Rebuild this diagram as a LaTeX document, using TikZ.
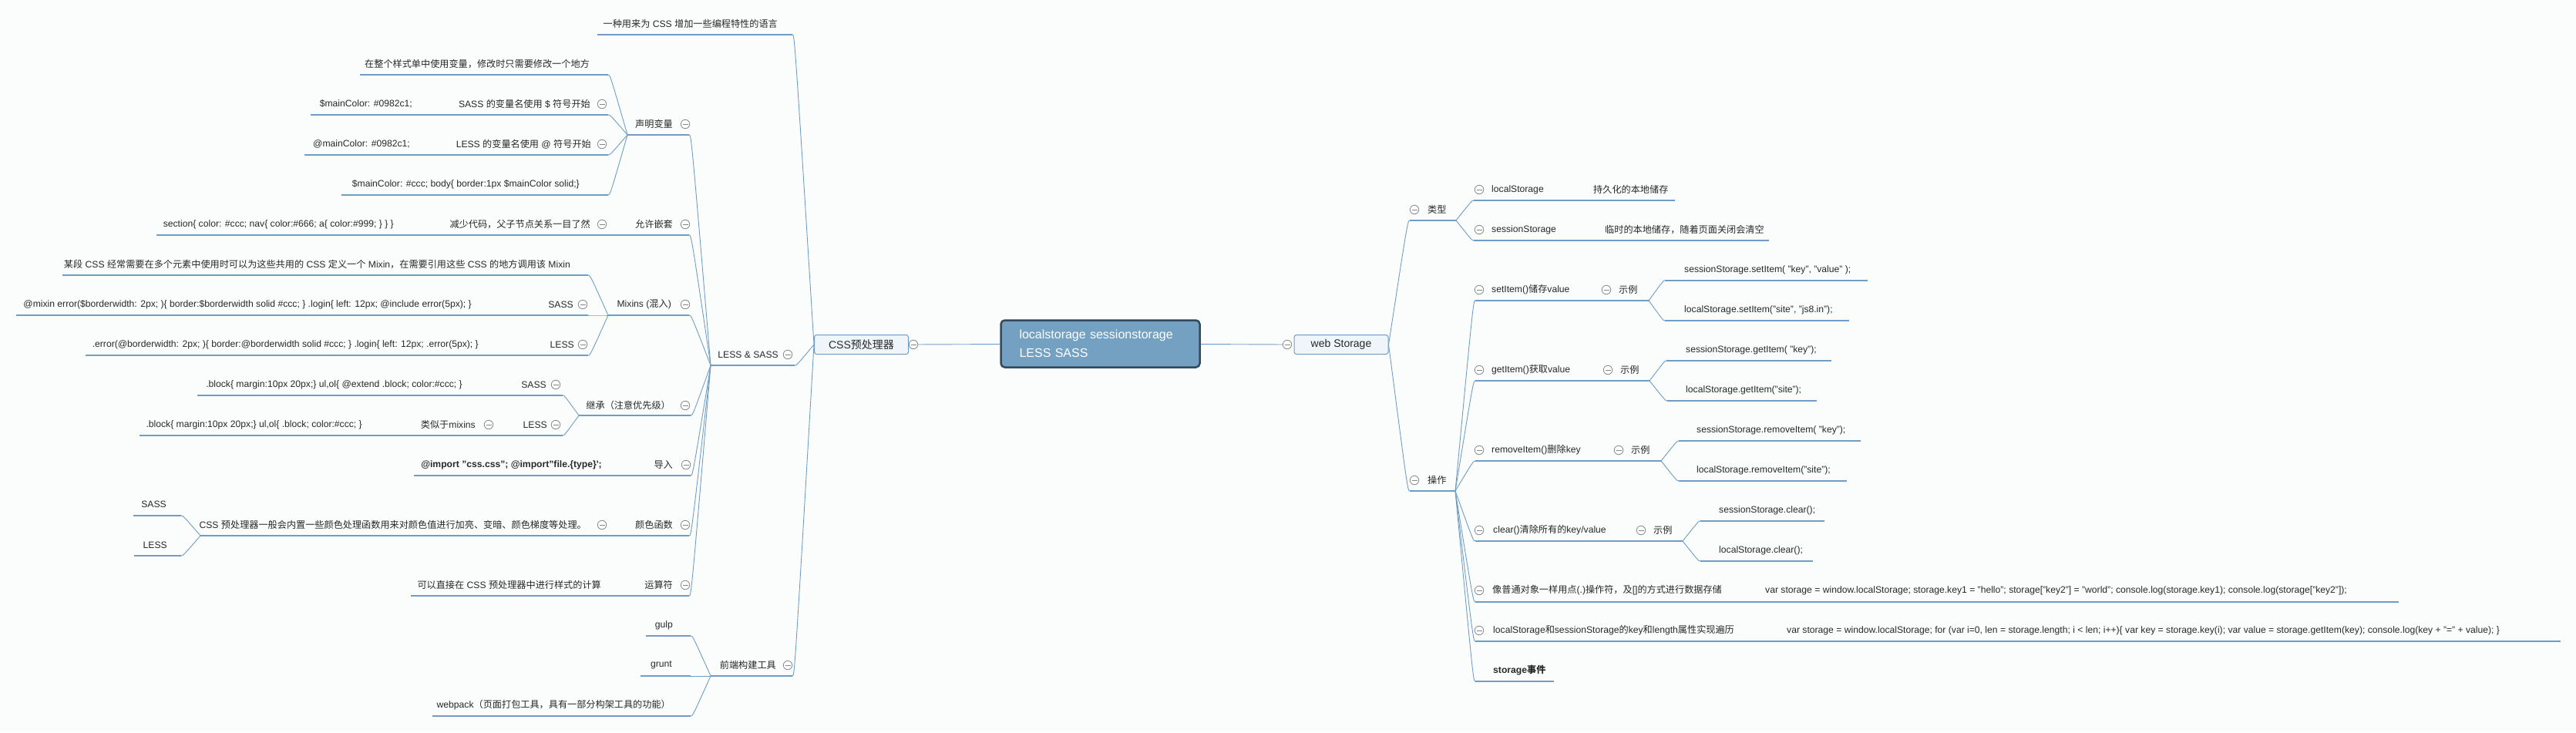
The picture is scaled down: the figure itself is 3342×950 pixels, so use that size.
\documentclass[tikz,border=0pt]{standalone}
\usepackage{fontspec}
\setmainfont{Liberation Sans}
\newfontfamily\cjk{Noto Sans CJK SC}
\usetikzlibrary{calc}
% 中文字符自动切换到中文字体
\chardef\cjkclass=7
\newcount\cjkc
\def\setcjkrange#1#2{\cjkc=#1 \loop\XeTeXcharclass\cjkc=\cjkclass \ifnum\cjkc<#2 \advance\cjkc by 1 \repeat}
\setcjkrange{"3000}{"303F}
\setcjkrange{"4E00}{"9FFF}
\setcjkrange{"FF00}{"FFEF}
\XeTeXinterchartoks 0 \cjkclass = {\cjk}
\XeTeXinterchartoks 1 \cjkclass = {\cjk}
\XeTeXinterchartoks 2 \cjkclass = {\cjk}
\XeTeXinterchartoks 3 \cjkclass = {\cjk}
\XeTeXinterchartoks 4095 \cjkclass = {\cjk}
\XeTeXinterchartoks \cjkclass 0 = {\rmfamily}
\XeTeXinterchartoks \cjkclass 1 = {\rmfamily}
\XeTeXinterchartoks \cjkclass 2 = {\rmfamily}
\XeTeXinterchartoks \cjkclass 3 = {\rmfamily}
\XeTeXinterchartoks \cjkclass 4095 = {\rmfamily}
\XeTeXinterchartokenstate=1

\begin{document}
\begin{tikzpicture}[x=1pt,y=-1pt]
    \definecolor{linec}{RGB}{112,157,197}
    \definecolor{foldc}{RGB}{135,135,135}
    \definecolor{txtc}{RGB}{40,40,40}
    \definecolor{boxc}{RGB}{239,245,250}
    \definecolor{rootc}{RGB}{116,161,193}
    \definecolor{rootd}{RGB}{52,74,92}
    \definecolor{bgc}{RGB}{251,252,252}

    \fontsize{12.15}{15}\selectfont  % 字体大小
    \tikzstyle{topic}=[inner sep=0pt,text=txtc]  % 主题文字
    \tikzstyle{ul}=[draw=linec,line width=1.2pt]  % 主题下划线
    \tikzstyle{link}=[draw=linec,line width=0.9pt,to path={let \p1=(\tikztostart),\p2=(\tikztotarget) in .. controls (0.9*\x2+0.1*\x1,\y2) and (0.9*\x2+0.1*\x1,\y2) .. (\tikztotarget)}]  % 连接曲线
    \tikzstyle{fold}=[circle,draw=foldc,line width=0.8pt,fill=white,minimum size=11.5pt,inner sep=0pt,path picture={\draw[foldc,line width=0.8pt] ([xshift=-3.5pt]path picture bounding box.center) -- ([xshift=3.5pt]path picture bounding box.center);}]  % 折叠按钮
    \tikzstyle{mainbox}=[rectangle,rounded corners=3pt,draw=linec,line width=1pt,fill=boxc,text=txtc,minimum width=122pt,minimum height=25pt,font=\fontsize{14}{16}\selectfont]  % 二级主题
    \tikzstyle{rootbox}=[rectangle,rounded corners=5pt,draw=rootd,line width=2.5pt,fill=rootc,text=white,minimum width=258pt,minimum height=61pt,text width=210pt,align=left,font=\fontsize{16}{24}\selectfont]  % 中心主题

    \fill[bgc] (0,0) rectangle (3342,950);
    \useasboundingbox (0,0) rectangle (3342,950);

    % 中心主题
    \node[rootbox] (root) at (1427.5,446) {localstorage sessionstorage\\LESS SASS};
    \node[mainbox] (css) at (1117.5,447) {CSS预处理器};
    \node[fold] (css-f) at (1185,447) {};
    \node[mainbox] (web) at (1740,447) {web Storage};
    \node[fold] (web-f) at (1670,447) {};
    \draw[link] (css-f) -- (root);
    \draw[link] (root) -- (web-f);

    % CSS预处理器
    \node[topic,anchor=east] (intro) at (1009,31) {一种用来为 CSS 增加一些编程特性的语言};
    \draw[ul] (775,45) coordinate (intro-l) -- (1028,45) coordinate (intro-r);
    \node[topic,anchor=east] (ls) at (1010,460) {LESS \& SASS};
    \node[fold] (ls-f) at (1022,460) {};
    \draw[ul] (922,474) coordinate (ls-l) -- (1031,474) coordinate (ls-r);
    \node[topic,anchor=east] (build) at (1007,863) {前端构建工具};
    \node[fold] (build-f) at (1022,863) {};
    \draw[ul] (922,877) coordinate (build-l) -- (1028,877) coordinate (build-r);
    \draw[link] (css.west) to (intro-r);
    \draw[link] (css.west) to (ls-r);
    \draw[link] (css.west) to (build-r);

    % 声明变量
    \node[topic,anchor=east] (var) at (873,161) {声明变量};
    \node[fold] (var-f) at (889,161) {};
    \draw[ul] (814,175) coordinate (var-l) -- (894,175) coordinate (var-r);
    \node[topic,anchor=east] (var1) at (765,83) {在整个样式单中使用变量，修改时只需要修改一个地方};
    \draw[ul] (467,97) coordinate (var1-l) -- (789,97) coordinate (var1-r);
    \node[topic,anchor=east] (var2) at (766,135) {SASS 的变量名使用 \$ 符号开始};
    \node[fold] (var2-f) at (781,135) {};
    \draw[ul] (590,149) coordinate (var2-l) -- (789,149) coordinate (var2-r);
    \node[topic,anchor=east] (var2a) at (535,135) {\$mainColor: \#0982c1;};
    \draw[ul] (403,149) coordinate (var2a-l) -- (590,149) coordinate (var2a-r);
    \node[topic,anchor=east] (var3) at (767,187) {LESS 的变量名使用 @ 符号开始};
    \node[fold] (var3-f) at (781,187) {};
    \draw[ul] (588,201) coordinate (var3-l) -- (789,201) coordinate (var3-r);
    \node[topic,anchor=east] (var3a) at (532,187) {@mainColor: \#0982c1;};
    \draw[ul] (395,201) coordinate (var3a-l) -- (588,201) coordinate (var3a-r);
    \node[topic,anchor=east] (var4) at (752,239) {\$mainColor: \#ccc; body\{ border:1px \$mainColor solid;\}};
    \draw[ul] (443,253) coordinate (var4-l) -- (789,253) coordinate (var4-r);
    \draw[link] (ls-l) to (var-r);
    \draw[link] (var-l) to (var1-r);
    \draw[link] (var-l) to (var2-r);
    \draw[link] (var-l) to (var3-r);
    \draw[link] (var-l) to (var4-r);

    % 允许嵌套
    \node[topic,anchor=east] (nest) at (873,291) {允许嵌套};
    \node[fold] (nest-f) at (889,291) {};
    \draw[ul] (810,305) coordinate (nest-l) -- (894,305) coordinate (nest-r);
    \node[topic,anchor=east] (nest1) at (766,291) {减少代码，父子节点关系一目了然};
    \node[fold] (nest1-f) at (781,291) {};
    \draw[ul] (578,305) coordinate (nest1-l) -- (810,305) coordinate (nest1-r);
    \node[topic,anchor=east] (nest1a) at (511,291) {section\{ color: \#ccc; nav\{ color:\#666; a\{ color:\#999; \} \} \}};
    \draw[ul] (203,305) coordinate (nest1a-l) -- (578,305) coordinate (nest1a-r);
    \draw[link] (ls-l) to (nest-r);

    % Mixins
    \node[topic,anchor=east] (mix) at (871,395) {Mixins (混入)};
    \node[fold] (mix-f) at (889,395) {};
    \draw[ul] (789,409) coordinate (mix-l) -- (894,409) coordinate (mix-r);
    \node[topic,anchor=east] (mix1) at (740,343) {某段 CSS 经常需要在多个元素中使用时可以为这些共用的 CSS 定义一个 Mixin，在需要引用这些 CSS 的地方调用该 Mixin};
    \draw[ul] (81,357) coordinate (mix1-l) -- (763,357) coordinate (mix1-r);
    \node[topic,anchor=east] (mix2) at (744,395) {SASS};
    \node[fold] (mix2-f) at (756,395) {};
    \draw[ul] (700,409) coordinate (mix2-l) -- (763,409) coordinate (mix2-r);
    \node[topic,anchor=east] (mix2a) at (612,395) {@mixin error(\$borderwidth: 2px; )\{ border:\$borderwidth solid \#ccc; \} .login\{ left: 12px; @include error(5px); \}};
    \draw[ul] (21,409) coordinate (mix2a-l) -- (700,409) coordinate (mix2a-r);
    \node[topic,anchor=east] (mix3) at (745,447) {LESS};
    \node[fold] (mix3-f) at (756,447) {};
    \draw[ul] (702,461) coordinate (mix3-l) -- (763,461) coordinate (mix3-r);
    \node[topic,anchor=east] (mix3a) at (621,447) {.error(@borderwidth: 2px; )\{ border:@borderwidth solid \#ccc; \} .login\{ left: 12px; .error(5px); \}};
    \draw[ul] (111,461) coordinate (mix3a-l) -- (702,461) coordinate (mix3a-r);
    \draw[link] (ls-l) to (mix-r);
    \draw[link] (mix-l) to (mix1-r);
    \draw[link] (mix-l) to (mix2-r);
    \draw[link] (mix-l) to (mix3-r);

    % 继承
    \node[topic,anchor=east] (ext) at (870,526) {继承（注意优先级）};
    \node[fold] (ext-f) at (889,526) {};
    \draw[ul] (751,539) coordinate (ext-l) -- (896,539) coordinate (ext-r);
    \node[topic,anchor=east] (ext1) at (709,499) {SASS};
    \node[fold] (ext1-f) at (721,499) {};
    \draw[ul] (665,513) coordinate (ext1-l) -- (730,513) coordinate (ext1-r);
    \node[topic,anchor=east] (ext1a) at (600,499) {.block\{ margin:10px 20px;\} ul,ol\{ @extend .block; color:\#ccc; \}};
    \draw[ul] (256,513) coordinate (ext1a-l) -- (665,513) coordinate (ext1a-r);
    \node[topic,anchor=east] (ext2) at (710,551) {LESS};
    \node[fold] (ext2-f) at (721,551) {};
    \draw[ul] (665,565) coordinate (ext2-l) -- (730,565) coordinate (ext2-r);
    \node[topic,anchor=east] (ext2b) at (617,551) {类似于mixins};
    \node[fold] (ext2b-f) at (634,551) {};
    \draw[ul] (536,565) coordinate (ext2b-l) -- (665,565) coordinate (ext2b-r);
    \node[topic,anchor=east] (ext2c) at (470,551) {.block\{ margin:10px 20px;\} ul,ol\{ .block; color:\#ccc; \}};
    \draw[ul] (181,565) coordinate (ext2c-l) -- (536,565) coordinate (ext2c-r);
    \draw[link] (ls-l) to (ext-r);
    \draw[link] (ext-l) to (ext1-r);
    \draw[link] (ext-l) to (ext2-r);

    % 导入
    \node[topic,anchor=east] (imp) at (873,603) {导入};
    \node[fold] (imp-f) at (890,603) {};
    \draw[ul] (840,617) coordinate (imp-l) -- (896,617) coordinate (imp-r);
    \node[topic,anchor=east,font=\bfseries] (imp1) at (781,603) {@import "css.css"; @import"file.\{type\}\textquotesingle;};
    \draw[ul] (537,617) coordinate (imp1-l) -- (840,617) coordinate (imp1-r);
    \draw[link] (ls-l) to (imp-r);

    % 颜色函数
    \node[topic,anchor=east] (colf) at (873,681) {颜色函数};
    \node[fold] (colf-f) at (889,681) {};
    \draw[ul] (810,695) coordinate (colf-l) -- (894,695) coordinate (colf-r);
    \node[topic,anchor=east] (colf1) at (761,681) {CSS 预处理器一般会内置一些颜色处理函数用来对颜色值进行加亮、变暗、颜色梯度等处理。};
    \node[fold] (colf1-f) at (781,681) {};
    \draw[ul] (260,695) coordinate (colf1-l) -- (810,695) coordinate (colf1-r);
    \node[topic,anchor=east] (colf1a) at (216,654) {SASS};
    \draw[ul] (173,669) coordinate (colf1a-l) -- (235,669) coordinate (colf1a-r);
    \node[topic,anchor=east] (colf1b) at (217,707) {LESS};
    \draw[ul] (174,721) coordinate (colf1b-l) -- (235,721) coordinate (colf1b-r);
    \draw[link] (ls-l) to (colf-r);
    \draw[link] (colf1-l) to (colf1a-r);
    \draw[link] (colf1-l) to (colf1b-r);

    % 运算符
    \node[topic,anchor=east] (oper) at (873,759) {运算符};
    \node[fold] (oper-f) at (889,759) {};
    \draw[ul] (828,773) coordinate (oper-l) -- (894,773) coordinate (oper-r);
    \node[topic,anchor=east] (oper1) at (780,759) {可以直接在 CSS 预处理器中进行样式的计算};
    \draw[ul] (533,773) coordinate (oper1-l) -- (828,773) coordinate (oper1-r);
    \draw[link] (ls-l) to (oper-r);

    % 前端构建工具
    \node[topic,anchor=east] (gulp) at (873,811) {gulp};
    \draw[ul] (838,825) coordinate (gulp-l) -- (896,825) coordinate (gulp-r);
    \node[topic,anchor=east] (grunt) at (872,863) {grunt};
    \draw[ul] (831,877) coordinate (grunt-l) -- (896,877) coordinate (grunt-r);
    \node[topic,anchor=east] (wpk) at (870,915) {webpack（页面打包工具，具有一部分构架工具的功能）};
    \draw[ul] (561,929) coordinate (wpk-l) -- (896,929) coordinate (wpk-r);
    \draw[link] (build-l) to (gulp-r);
    \draw[link] (build-l) to (grunt-r);
    \draw[link] (build-l) to (wpk-r);

    % web Storage
    \node[fold] (type-f) at (1835,272) {};
    \node[topic,anchor=west] (type) at (1852,272) {类型};
    \draw[ul] (1829,286) coordinate (type-l) -- (1889,286) coordinate (type-r);
    \node[fold] (op-f) at (1835,623) {};
    \node[topic,anchor=west] (op) at (1852,623) {操作};
    \draw[ul] (1829,637) coordinate (op-l) -- (1888,637) coordinate (op-r);
    \draw[link] (web.east) to (type-l);
    \draw[link] (web.east) to (op-l);

    % 类型
    \node[fold] (lst-f) at (1919,246) {};
    \node[topic,anchor=west] (lst) at (1935,246) {localStorage};
    \draw[ul] (1912,260) coordinate (lst-l) -- (2060,260) coordinate (lst-r);
    \node[topic,anchor=west] (lst1) at (2067,246) {持久化的本地储存};
    \draw[ul] (2060,260) coordinate (lst1-l) -- (2173,260) coordinate (lst1-r);
    \node[fold] (sst-f) at (1919,298) {};
    \node[topic,anchor=west] (sst) at (1935,298) {sessionStorage};
    \draw[ul] (1912,312) coordinate (sst-l) -- (2075,312) coordinate (sst-r);
    \node[topic,anchor=west] (sst1) at (2082,298) {临时的本地储存，随着页面关闭会清空};
    \draw[ul] (2075,312) coordinate (sst1-l) -- (2295,312) coordinate (sst1-r);
    \draw[link] (type-r) to (lst-l);
    \draw[link] (type-r) to (sst-l);

    % 操作
    \node[fold] (set-f) at (1919,376) {};
    \node[topic,anchor=west] (set) at (1935,376) {setItem()储存value};
    \draw[ul] (1914,390) coordinate (set-l) -- (2077,390) coordinate (set-r);
    \node[fold] (set1-f) at (2084,376) {};
    \node[topic,anchor=west] (set1) at (2100,376) {示例};
    \draw[ul] (2077,390) coordinate (set1-l) -- (2139,390) coordinate (set1-r);
    \node[topic,anchor=west] (set1a) at (2185,350) {sessionStorage.setItem( "key", "value" );};
    \draw[ul] (2160,364) coordinate (set1a-l) -- (2423,364) coordinate (set1a-r);
    \node[topic,anchor=west] (set1b) at (2185,402) {localStorage.setItem("site", "js8.in");};
    \draw[ul] (2160,416) coordinate (set1b-l) -- (2399,416) coordinate (set1b-r);
    \draw[link] (set1-r) to (set1a-l);
    \draw[link] (set1-r) to (set1b-l);

    \node[fold] (get-f) at (1919,480) {};
    \node[topic,anchor=west] (get) at (1935,480) {getItem()获取value};
    \draw[ul] (1914,494) coordinate (get-l) -- (2079,494) coordinate (get-r);
    \node[fold] (get1-f) at (2086,480) {};
    \node[topic,anchor=west] (get1) at (2102,480) {示例};
    \draw[ul] (2079,494) coordinate (get1-l) -- (2140,494) coordinate (get1-r);
    \node[topic,anchor=west] (get1a) at (2187,454) {sessionStorage.getItem( "key");};
    \draw[ul] (2162,468) coordinate (get1a-l) -- (2376,468) coordinate (get1a-r);
    \node[topic,anchor=west] (get1b) at (2187,506) {localStorage.getItem("site");};
    \draw[ul] (2163,520) coordinate (get1b-l) -- (2357,520) coordinate (get1b-r);
    \draw[link] (get1-r) to (get1a-l);
    \draw[link] (get1-r) to (get1b-l);

    \node[fold] (rem-f) at (1919,584) {};
    \node[topic,anchor=west] (rem) at (1935,584) {removeItem()删除key};
    \draw[ul] (1914,598) coordinate (rem-l) -- (2093,598) coordinate (rem-r);
    \node[fold] (rem1-f) at (2100,584) {};
    \node[topic,anchor=west] (rem1) at (2116,584) {示例};
    \draw[ul] (2093,598) coordinate (rem1-l) -- (2155,598) coordinate (rem1-r);
    \node[topic,anchor=west] (rem1a) at (2201,558) {sessionStorage.removeItem( "key");};
    \draw[ul] (2178,572) coordinate (rem1a-l) -- (2414,572) coordinate (rem1a-r);
    \node[topic,anchor=west] (rem1b) at (2201,610) {localStorage.removeItem("site");};
    \draw[ul] (2178,624) coordinate (rem1b-l) -- (2396,624) coordinate (rem1b-r);
    \draw[link] (rem1-r) to (rem1a-l);
    \draw[link] (rem1-r) to (rem1b-l);

    \node[fold] (clr-f) at (1919,688) {};
    \node[topic,anchor=west] (clr) at (1937,688) {clear()清除所有的key/value};
    \draw[ul] (1914,702) coordinate (clr-l) -- (2122,702) coordinate (clr-r);
    \node[fold] (clr1-f) at (2129,688) {};
    \node[topic,anchor=west] (clr1) at (2145,688) {示例};
    \draw[ul] (2122,702) coordinate (clr1-l) -- (2183,702) coordinate (clr1-r);
    \node[topic,anchor=west] (clr1a) at (2230,662) {sessionStorage.clear();};
    \draw[ul] (2206,676) coordinate (clr1a-l) -- (2367,676) coordinate (clr1a-r);
    \node[topic,anchor=west] (clr1b) at (2230,714) {localStorage.clear();};
    \draw[ul] (2206,728) coordinate (clr1b-l) -- (2352,728) coordinate (clr1b-r);
    \draw[link] (clr1-r) to (clr1a-l);
    \draw[link] (clr1-r) to (clr1b-l);

    \node[fold] (obj-f) at (1919,766) {};
    \node[topic,anchor=west] (obj) at (1936,766) {像普通对象一样用点(.)操作符，及[]的方式进行数据存储};
    \draw[ul] (1914,781) coordinate (obj-l) -- (2280,781) coordinate (obj-r);
    \node[topic,anchor=west] (obj1) at (2290,766) {var storage = window.localStorage; storage.key1 = "hello"; storage["key2"] = "world"; console.log(storage.key1); console.log(storage["key2"]);};
    \draw[ul] (2280,781) coordinate (obj1-l) -- (3112,781) coordinate (obj1-r);

    \node[fold] (iter-f) at (1919,818) {};
    \node[topic,anchor=west] (iter) at (1937,818) {localStorage和sessionStorage的key和length属性实现遍历};
    \draw[ul] (1914,832) coordinate (iter-l) -- (2308,832) coordinate (iter-r);
    \node[topic,anchor=west] (iter1) at (2318,818) {var storage = window.localStorage; for (var i=0, len = storage.length; i < len; i++)\{ var key = storage.key(i); var value = storage.getItem(key); console.log(key + "=" + value); \}};
    \draw[ul] (2308,832) coordinate (iter1-l) -- (3322,832) coordinate (iter1-r);

    \node[topic,anchor=west,font=\bfseries] (evt) at (1937,870) {storage事件};
    \draw[ul] (1914,884) coordinate (evt-l) -- (2016,884) coordinate (evt-r);

    \draw[link] (op-r) to (set-l);
    \draw[link] (op-r) to (get-l);
    \draw[link] (op-r) to (rem-l);
    \draw[link] (op-r) to (clr-l);
    \draw[link] (op-r) to (obj-l);
    \draw[link] (op-r) to (iter-l);
    \draw[link] (op-r) to (evt-l);
\end{tikzpicture}
\end{document}
